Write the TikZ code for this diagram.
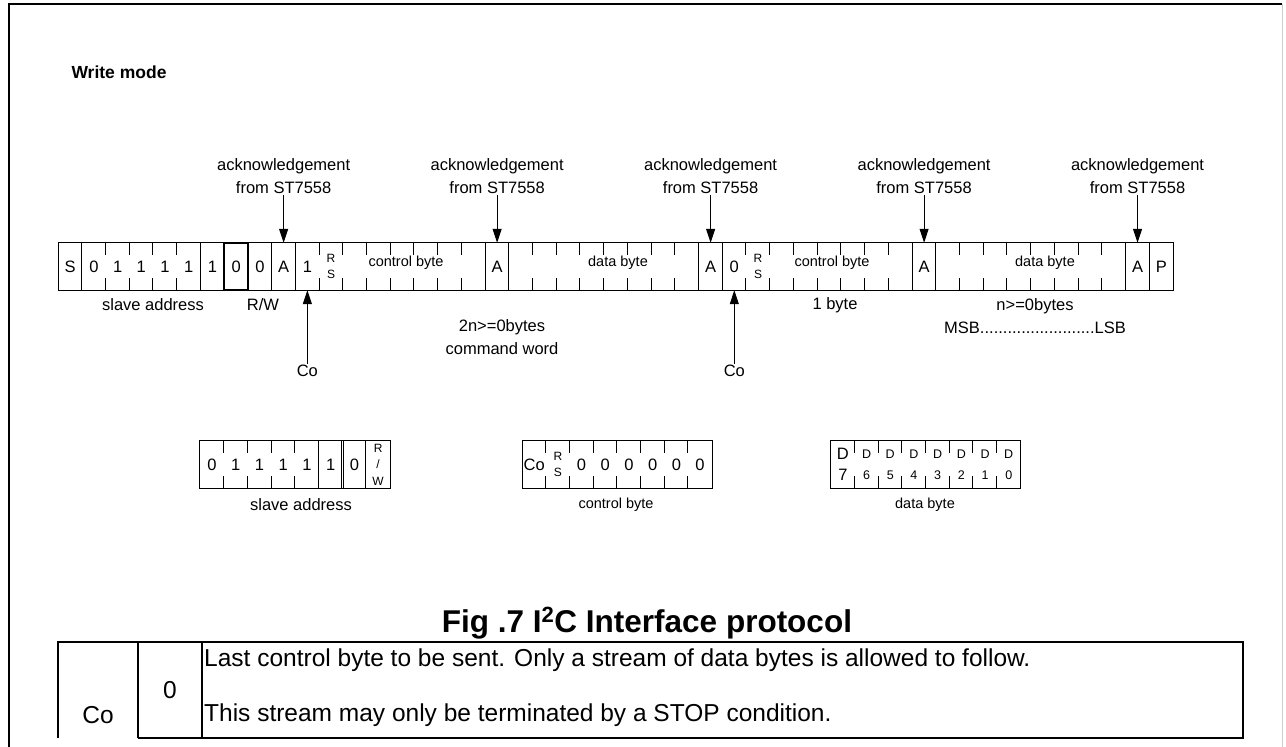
\documentclass[tikz,border=0pt]{standalone}
\usepackage{fontspec}
\setmainfont{Liberation Sans}
\usetikzlibrary{arrows.meta, positioning}

\begin{document}
\begin{tikzpicture}[
    x=1pt, y=-1pt,
    cell/.style={rectangle, minimum width=23.72pt, minimum height=47pt, inner sep=0pt, font=\fontsize{16.5}{18}\selectfont},
    tiny/.style={font=\fontsize{12}{16.5}\selectfont, align=center, inner sep=0pt},
    dbit/.style={font=\fontsize{12.5}{21}\selectfont, align=center, inner sep=0pt},
    inbyte/.style={font=\fontsize{14.5}{16}\selectfont, inner sep=1pt},
    lbl/.style={font=\fontsize{16.5}{23}\selectfont, align=center, inner sep=1pt},
    tbltext/.style={font=\fontsize{24.5}{27}\selectfont, inner sep=1pt},
    frameline/.style={line width=1pt},
    arrow/.style={-{Triangle[length=14pt, width=9pt]}, line width=1pt}
]
\useasboundingbox (0,0) rectangle (1286,747);

% outer border
\draw[line width=1.5pt] (9,747) -- (9,4) -- (1282,4);
\draw[gray!40] (1282,4) -- (1282,747);

\node[font=\bfseries\fontsize{17.5}{20}\selectfont, anchor=west] (mode) at (68,72) {Write mode};

% Main frame - cells
\foreach \i/\t in {0/S,1/0,2/1,3/1,4/1,5/1,6/1,7/0,8/0,9/A,10/1,18/A,27/A,28/0,36/A,45/A,46/P}
    \node[cell] (m\i) at ({58.3+(\i+0.5)*23.72},266.5) {\t};
\foreach \a/\b in {11/17,19/26,29/35,37/44}
    \foreach \i in {\a,...,\b}
        \node[cell] (m\i) at ({58.3+(\i+0.5)*23.72},266.5) {};

\draw[frameline] (m0.north west) rectangle (m46.south east);
\foreach \k in {1,6,9,10,18,19,27,28,36,37,45,46}
    \draw[frameline] (m\k.north west) -- (m\k.south west);
\foreach \a/\b in {2/5,11/17,20/26,29/35,38/44}
    \foreach \k in {\a,...,\b} {
        \draw[frameline] (m\k.north west) -- ++(0,12);
        \draw[frameline] (m\k.south west) -- ++(0,-12);
    }
\draw[line width=2pt] (m7.north west) rectangle (m7.south east);

\node[tiny] (rs1) at (m11) {R\\S};
\node[tiny] (rs2) at (m29) {R\\S};
\node[inbyte] (cb1) at (406,263) {control byte};
\node[inbyte] (db1) at (618,263) {data byte};
\node[inbyte] (cb2) at (832,263) {control byte};
\node[inbyte] (db2) at (1045,263) {data byte};

% acknowledgements
\foreach \n/\i in {1/9,2/18,3/27,4/36,5/45} {
    \node[lbl, above=48pt of m\i.north] (ack\n) {acknowledgement\\from ST7558};
    \draw[arrow] (ack\n.south) -- (m\i.north);
}

% Co arrows
\node[lbl, below=74pt of m10.south] (co1) {Co};
\node[lbl, below=74pt of m28.south] (co2) {Co};
\draw[arrow] (co1.north) -- (m10.south);
\draw[arrow] (co2.north) -- (m28.south);

% labels under the frame
\node[lbl] (lsa) at (153,305) {slave address};
\node[lbl] (lrw) at (263,305) {R/W};
\node[lbl] (lcmd) at (502,337) {2n>=0bytes\\command word};
\node[lbl] (lone) at (835,305) {1 byte};
\node[lbl] (ldata) at (1035,316) {n>=0bytes\\MSB.........................LSB};

% slave address
\foreach \i/\t in {0/0,1/1,2/1,3/1,4/1,5/1,6/0,7/{}}
    \node[cell] (s\i) at ({200+(\i+0.5)*23.75},464.5) {\t};
\node[tiny] (srw) at (s7) {R\\/\\W};
\draw[frameline] (s0.north west) rectangle (s7.south east);
\foreach \k in {1,...,4} {
    \draw[frameline] (s\k.north west) -- ++(0,12);
    \draw[frameline] (s\k.south west) -- ++(0,-12);
}
\draw[frameline] (s5.north west) -- (s5.south west);
\draw[line width=0.7pt, double, double distance=1pt] (s6.north west) -- (s6.south west);
\draw[line width=0.7pt, double, double distance=1pt] (s7.north west) -- (s7.south west);
\node[lbl] (lsa2) at (301,505) {slave address};

% control byte
\foreach \i/\t in {0/Co,1/{},2/0,3/0,4/0,5/0,6/0,7/0}
    \node[cell] (c\i) at ({522.3+(\i+0.5)*23.7},464.5) {\t};
\node[tiny] (crs) at (c1) {R\\S};
\draw[frameline] (c0.north west) rectangle (c7.south east);
\foreach \k in {1,...,7} {
    \draw[frameline] (c\k.north west) -- ++(0,12);
    \draw[frameline] (c\k.south west) -- ++(0,-12);
}
\node[inbyte] (lcb) at (616,505) {control byte};

% data byte
\node[cell, font=\fontsize{16.5}{21}\selectfont, align=center] (d0) at ({831+0.5*23.7},464.5) {D\\7};
\foreach \i/\t in {1/6,2/5,3/4,4/3,5/2,6/1,7/0}
    \node[cell, dbit] (d\i) at ({831+(\i+0.5)*23.7},464.5) {D\\\t};
\draw[frameline] (d0.north west) rectangle (d7.south east);
\foreach \k in {1,...,7} {
    \draw[frameline] (d\k.north west) -- ++(0,12);
    \draw[frameline] (d\k.south west) -- ++(0,-12);
}
\node[inbyte] (ldb) at (925,505) {data byte};

% title
\node[font=\bfseries\fontsize{31.5}{34}\selectfont, anchor=base] (title) at (647,632) {Fig .7 I\textsuperscript{2}C Interface protocol};

% table
\draw[line width=2pt] (58,738) -- (58,641.7) -- (1243,641.7) -- (1243,738) -- (138,738);
\draw[line width=2pt] (138,641.7) -- (138,738);
\draw[line width=2pt] (202,641.7) -- (202,738);
\node[tbltext] (tco) at (98,715) {Co};
\node[tbltext] (tzero) at (170,690) {0};
\node[tbltext, anchor=west] (row1) at (203,660) {Last control byte to be sent. Only a stream of data bytes is allowed to follow.};
\node[tbltext, anchor=west] (row2) at (203,715) {This stream may only be terminated by a STOP condition.};

\end{tikzpicture}
\end{document}
